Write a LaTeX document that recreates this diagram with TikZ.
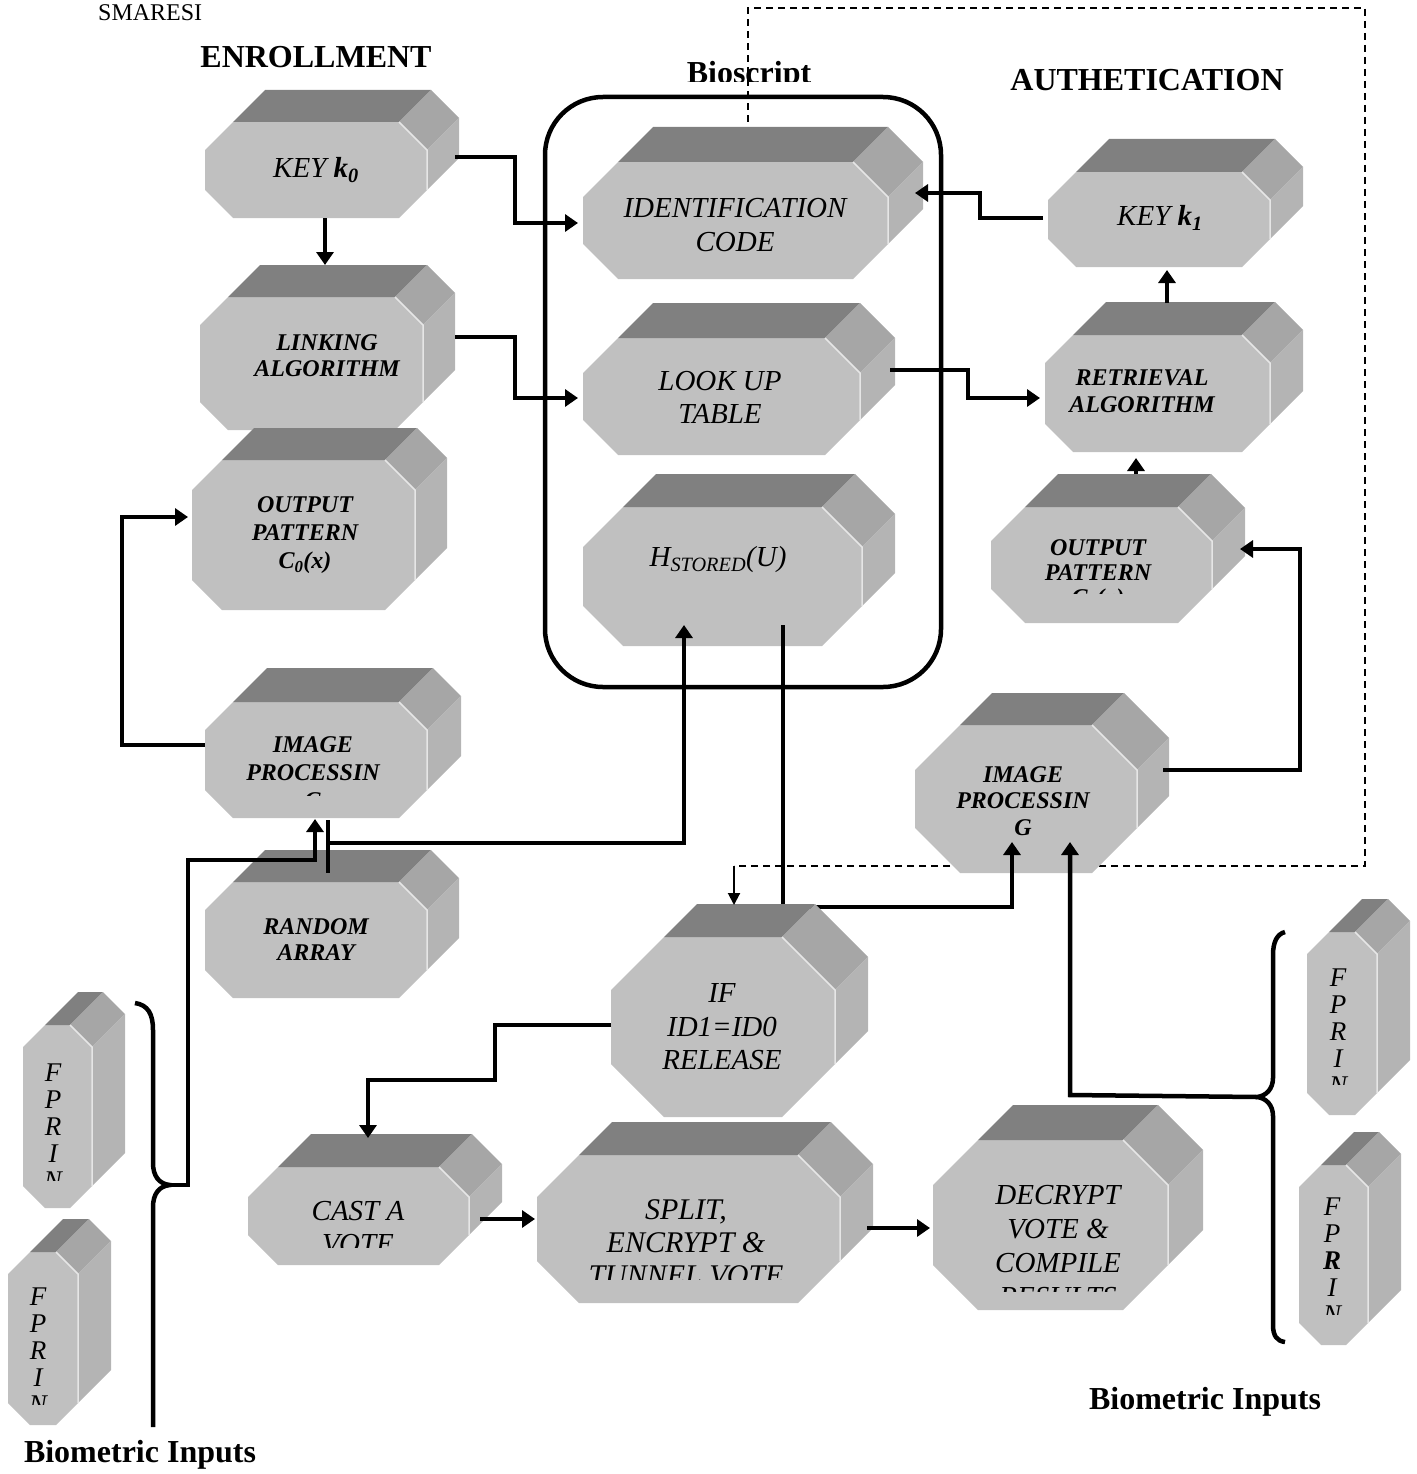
\documentclass[tikz,border=0pt]{standalone}
\usepackage{fontspec}
\setmainfont{Liberation Serif}
\usetikzlibrary{arrows.meta}
\definecolor{frontc}{HTML}{C0C0C0}
\definecolor{topc}{HTML}{808080}
\definecolor{chamc}{HTML}{A6A6A6}
\definecolor{sidec}{HTML}{B4B4B4}
\definecolor{hlc}{HTML}{E6E6E6}
% 3D octagonal block: x0,y0,x1,y1 (front face), chamfer, depth
\newcommand\pbox[6]{%
  \fill[frontc] ({#1},{#2+#5}) -- ({#1+#5},{#2}) -- ({#3-#5},{#2}) -- ({#3},{#2+#5}) -- ({#3},{#4-#5}) -- ({#3-#5},{#4}) -- ({#1+#5},{#4}) -- ({#1},{#4-#5}) -- cycle;
  \fill[topc] ({#1+#5},{#2}) -- ({#1+#5+#6},{#2-#6}) -- ({#3-#5+#6},{#2-#6}) -- ({#3-#5},{#2}) -- cycle;
  \fill[chamc] ({#3-#5},{#2}) -- ({#3-#5+#6},{#2-#6}) -- ({#3+#6},{#2+#5-#6}) -- ({#3},{#2+#5}) -- cycle;
  \fill[sidec] ({#3},{#2+#5}) -- ({#3+#6},{#2+#5-#6}) -- ({#3+#6},{#4-#5-#6}) -- ({#3},{#4-#5}) -- cycle;
  \draw[hlc, line width=1.5pt] ({#3-#5},{#2}) -- ({#3},{#2+#5}) -- ({#3},{#4-#5});
}
\begin{document}
\begin{tikzpicture}[x=1pt,y=-1pt,
  lab/.style={font=\itshape\fontsize{29}{34}\selectfont, align=center, inner sep=0pt},
  blab/.style={font=\bfseries\itshape\fontsize{24}{28}\selectfont, align=center, inner sep=0pt},
  flab/.style={font=\itshape\fontsize{27}{27}\selectfont, align=center, inner sep=0pt},
  head/.style={font=\bfseries\fontsize{32}{36}\selectfont, inner sep=0pt},
  conn/.style={line width=4.5pt, line join=miter, -{Triangle[length=13pt,width=17pt]}},
  connline/.style={line width=4.5pt, line join=miter},
  thinarrow/.style={line width=2pt, -{Triangle[length=12pt,width=12pt]}},
  dashl/.style={line width=1.6pt, dash pattern=on 7pt off 5pt},
  brace/.style={line width=4.5pt, line cap=butt}
]
\useasboundingbox (0,0) rectangle (1416,1474);

% dashed feedback line
\coordinate (dA) at (748,122);
\coordinate (dB) at (748,8);
\coordinate (dC) at (1365,8);
\coordinate (dD) at (1365,866);
\coordinate (dE) at (734,866);
\coordinate (dF) at (734,905);
\draw[dashl] (dA) -- (dB) -- (dC) -- (dD) -- (dE);

% headings
\node[font=\fontsize{24}{28}\selectfont, anchor=base west, inner sep=0pt] (smar) at (98,21) {SMARESI};
\node[head] (enr) at (316,57) {ENROLLMENT};
\node[head] (auth) at (1147,80) {AUTHETICATION};
\begin{scope}
  \clip (650,40) rectangle (850,82);
  \node[head, anchor=base] (bio) at (749,84) {Bioscript};
\end{scope}
\node[head] (bioR) at (1205,1402) {Biometric Inputs};
\node[head] (bioL) at (140,1455) {Biometric Inputs};

% enrollment column
\pbox{205}{122}{427}{218}{28}{32}
\node[lab] (tk0) at (316,170) {KEY \textbf{k\textsubscript{0}}};
\pbox{200}{297}{423}{430}{28}{32}
\node[blab, font=\bfseries\itshape\fontsize{24}{26}\selectfont] (tlink) at (327,356) {LINKING\\ALGORITHM};
\pbox{192}{460}{415}{610}{30}{32}
\node[blab] (toutL) at (305,535) {OUTPUT\\PATTERN\\C\textsubscript{0}(x)};
\pbox{205}{702}{427}{818}{28}{34}
\begin{scope}
  \clip (205,690) rectangle (460,795);
  \node[blab] (timgL) at (313,773) {IMAGE\\PROCESSIN\\G};
\end{scope}
\pbox{205}{882}{427}{998}{28}{32}
\node[blab, font=\bfseries\itshape\fontsize{24}{26}\selectfont] (trand) at (316,940) {RANDOM\\ARRAY};

% bioscript column
\pbox{583}{162}{888}{279}{35}{35}
\node[lab] (tid) at (735,225) {IDENTIFICATION\\CODE};
\pbox{583}{338}{860}{455}{35}{35}
\node[lab, font=\itshape\fontsize{29}{33}\selectfont] (tlook) at (720,397) {LOOK UP\\TABLE};
\pbox{583}{507}{862}{646}{40}{33}
\node[lab] (th) at (718,560) {H\textsubscript{STORED}(U)};
\draw[line width=4.5pt, rounded corners=58pt] (545,97) rectangle (941,687);

% authentication column
\pbox{1048}{172}{1270}{267}{28}{33}
\node[lab] (tk1) at (1160,218) {KEY \textbf{k\textsubscript{1}}};
\pbox{1045}{335}{1270}{452}{28}{33}
\node[blab, font=\bfseries\itshape\fontsize{24}{27}\selectfont] (tretr) at (1142,391) {RETRIEVAL\\ALGORITHM};
\pbox{991}{507}{1212}{623}{34}{33}
\begin{scope}
  \clip (991,480) rectangle (1245,593);
  \node[blab, font=\bfseries\itshape\fontsize{24}{25}\selectfont] (toutR) at (1098,575) {OUTPUT\\PATTERN\\C\textsubscript{1}(x)};
\end{scope}
\pbox{915}{725}{1137}{873}{45}{32}
\node[blab, font=\bfseries\itshape\fontsize{24}{26.5}\selectfont] (timgR) at (1023,801) {IMAGE\\PROCESSIN\\G};

% voting row
\pbox{248}{1167}{469}{1265}{30}{33}
\begin{scope}
  \clip (248,1150) rectangle (503,1247);
  \node[lab, font=\itshape\fontsize{29}{33}\selectfont] (tcast) at (358,1228) {CAST A\\VOTE};
\end{scope}
\pbox{537}{1155}{840}{1303}{42}{33}
\begin{scope}
  \clip (537,1140) rectangle (873,1279);
  \node[lab, font=\itshape\fontsize{30}{33}\selectfont] (tsplit) at (686,1243) {SPLIT,\\ENCRYPT \&\\TUNNEL VOTE};
\end{scope}
\pbox{933}{1140}{1168}{1310}{45}{35}
\begin{scope}
  \clip (933,1120) rectangle (1203,1291);
  \node[lab] (tdec) at (1058,1246) {DECRYPT\\VOTE \&\\COMPILE\\RESULTS};
\end{scope}

% fingerprint inputs
\pbox{23}{1025}{92}{1208}{22}{33}
\begin{scope}
  \clip (0,1000) rectangle (130,1180);
  \node[flab] (fp1) at (53,1127) {F\\P\\R\\I\\N};
\end{scope}
\pbox{8}{1252}{78}{1425}{22}{33}
\begin{scope}
  \clip (0,1230) rectangle (115,1404);
  \node[flab] (fp2) at (38,1351) {F\\P\\R\\I\\N};
\end{scope}
\pbox{1307}{932}{1377}{1115}{22}{33}
\begin{scope}
  \clip (1300,900) rectangle (1416,1084);
  \node[flab] (fp3) at (1338,1032) {F\\P\\R\\I\\N};
\end{scope}
\pbox{1299}{1165}{1368}{1345}{22}{33}
\begin{scope}
  \clip (1290,1140) rectangle (1416,1314);
  \node[flab] (fp4) at (1332,1261) {F\\P\\\textbf{R}\\I\\N};
\end{scope}

% braces
\coordinate (bL) at (170,1185);
\coordinate (bR) at (1257,1097);
\draw[brace] (135,1003) .. controls (148,1005) and (153,1014) .. (153,1030) -- (153,1163)
  .. controls (153,1176) and (159,1184) .. (bL)
  .. controls (159,1186) and (153,1194) .. (153,1207) -- (153,1427);
\draw[brace] (1285,932) .. controls (1277,934) and (1273,942) .. (1273,955) -- (1273,1078)
  .. controls (1273,1089) and (1266,1096) .. (bR)
  .. controls (1266,1098) and (1273,1105) .. (1273,1116) -- (1273,1325)
  .. controls (1273,1336) and (1277,1341) .. (1285,1342);

% connectors
\coordinate (k0o) at (455,157);  \coordinate (idi) at (578,223);
\draw[conn] (k0o) -- (515,157) -- (515,223) -- (idi);
\coordinate (k0b) at (325,218);  \coordinate (lkt) at (325,265);
\draw[conn] (k0b) -- (lkt);
\coordinate (lko) at (455,337);  \coordinate (lui) at (578,398);
\draw[conn] (lko) -- (515,337) -- (515,398) -- (lui);
\coordinate (imLo) at (205,745); \coordinate (opLi) at (188,517);
\draw[conn] (imLo) -- (122,745) -- (122,517) -- (opLi);
\coordinate (imLi) at (315,819);
\draw[conn] (bL) -- (188,1185) -- (188,860) -- (315,860) -- (imLi);
\coordinate (imLb) at (328,820); \coordinate (raT) at (328,873);
\draw[connline] (imLb) -- (raT);
\coordinate (hi) at (684,625);
\draw[conn] (328,843) -- (684,843) -- (hi);
\coordinate (ho) at (783,625); \coordinate (imRi1) at (1012,842);
\draw[conn] (ho) -- (783,907) -- (1012,907) -- (imRi1);
\coordinate (k1o) at (1043,218); \coordinate (idr) at (915,193);
\draw[conn] (k1o) -- (980,218) -- (980,193) -- (idr);
\coordinate (rto) at (1167,303); \coordinate (k1i) at (1167,270);
\draw[conn] (rto) -- (k1i);
\coordinate (luo) at (890,370); \coordinate (rti) at (1040,398);
\draw[conn] (luo) -- (968,370) -- (968,398) -- (rti);
\coordinate (opRo) at (1136,474); \coordinate (rtb) at (1136,458);
\draw[conn] (opRo) -- (rtb);
\coordinate (imRo) at (1163,770); \coordinate (opRi) at (1240,549);
\draw[conn] (imRo) -- (1300,770) -- (1300,549) -- (opRi);
\coordinate (imRi2) at (1070,842);
\draw[conn] (bR) -- (1070,1095) -- (imRi2);

% decision block (drawn over the H -> image processing connector)
\pbox{611}{937}{835}{1117}{53}{33}
\node[lab, font=\itshape\fontsize{29}{33.5}\selectfont] (tif) at (722,1027) {IF\\ID1=ID0\\RELEASE};

\draw[thinarrow] (dE) -- (dF);
\coordinate (ifo) at (611,1025); \coordinate (cai) at (368,1138);
\draw[conn] (ifo) -- (495,1025) -- (495,1080) -- (368,1080) -- (cai);
\coordinate (cao) at (480,1219); \coordinate (spi) at (535,1219);
\draw[conn] (cao) -- (spi);
\coordinate (spo) at (867,1228); \coordinate (dei) at (930,1228);
\draw[conn] (spo) -- (dei);
\end{tikzpicture}
\end{document}
